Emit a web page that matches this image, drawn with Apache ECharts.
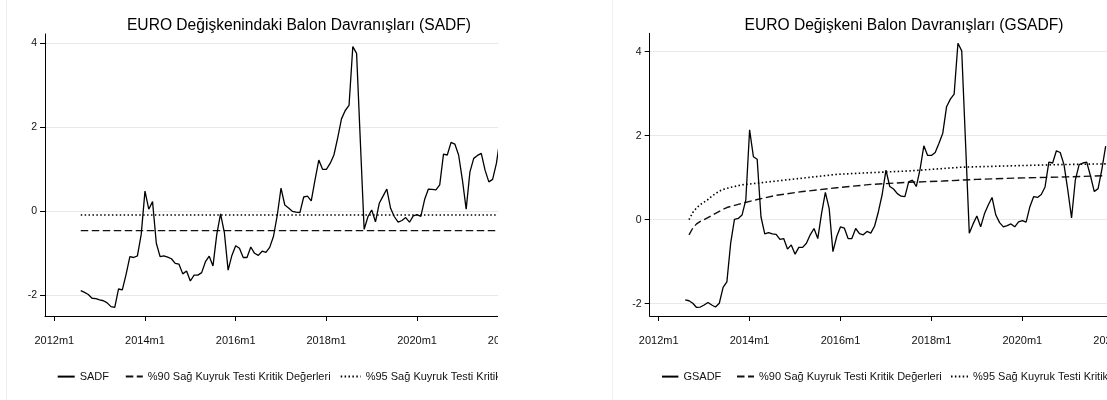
<!DOCTYPE html>
<html>
<head>
<meta charset="utf-8">
<title>EURO Balon Davranışları</title>
<script src="https://cdn.jsdelivr.net/npm/echarts@6/dist/echarts.min.js"></script>
<style>
  html, body { margin: 0; padding: 0; background: #fff; overflow: hidden; }
  .clip { position: absolute; top: 0; height: 400px; overflow: hidden; }
  #leftClip { left: 0; width: 498px; }
  #rightClip { left: 553px; width: 554px; }
  .chart { position: absolute; left: 0; top: 0; height: 400px; }
  #left { width: 600px; }
  #right { width: 700px; }
</style>
</head>
<body>
<div id="leftClip" class="clip"><div id="left" class="chart"></div></div>
<div id="rightClip" class="clip"><div id="right" class="chart"></div></div>
<script>
// Months are counted from 2012m1 (0 = 2012m1). Monthly observations start at 2012m8.
const firstMonth = 7;

// Axis ticks
const tickMonths = [0, 24, 48, 72, 96, 120];
const tickLabels = ['2012m1', '2014m1', '2016m1', '2018m1', '2020m1', '2022m1'];
const yTicks = [-2, 0, 2, 4];

// SADF statistic, 2012m8 onwards
const sadf = [
  -1.89, -1.93, -1.98, -2.07, -2.08, -2.11, -2.13, -2.18, -2.27, -2.29,
  -1.85, -1.87, -1.50, -1.08, -1.10, -1.06, -0.55, 0.48, 0.05, 0.23,
  -0.76, -1.08, -1.06, -1.09, -1.13, -1.24, -1.26, -1.49, -1.42, -1.66,
  -1.52, -1.52, -1.46, -1.20, -1.07, -1.30, -0.55, -0.06, -0.50, -1.40,
  -1.05, -0.82, -0.88, -1.10, -1.10, -0.85, -1.00, -1.05, -0.95, -0.98,
  -0.86, -0.60, -0.10, 0.55, 0.15, 0.08, 0.00, -0.02, -0.03, 0.34,
  0.36, 0.25, 0.75, 1.22, 1.00, 1.00, 1.14, 1.34, 1.75, 2.20,
  2.40, 2.52, 3.92, 3.76, 1.65, -0.43, -0.13, 0.03, -0.25, 0.19,
  0.36, 0.53, 0.07, -0.13, -0.26, -0.22, -0.15, -0.26, -0.11, -0.08,
  -0.12, 0.28, 0.53, 0.52, 0.51, 0.63, 1.36, 1.34, 1.64, 1.60,
  1.34, 0.75, 0.05, 0.94, 1.26, 1.33, 1.38, 0.98, 0.70, 0.76,
  1.14, 1.75
];
// SADF right-tail critical values (constant)
const sadfCv90 = -0.46;
const sadfCv95 = -0.09;

// GSADF (backward SADF sequence), 2012m8 onwards
const gsadf = [
  -1.91, -1.93, -1.99, -2.09, -2.08, -2.03, -1.97, -2.03, -2.08, -1.99,
  -1.61, -1.48, -0.56, 0.01, 0.03, 0.11, 0.47, 2.14, 1.50, 1.44,
  0.07, -0.34, -0.31, -0.34, -0.35, -0.47, -0.45, -0.70, -0.60, -0.82,
  -0.66, -0.66, -0.56, -0.36, -0.21, -0.45, 0.15, 0.65, 0.27, -0.76,
  -0.40, -0.17, -0.20, -0.45, -0.45, -0.21, -0.33, -0.36, -0.28, -0.32,
  -0.15, 0.19, 0.60, 1.18, 0.79, 0.73, 0.62, 0.56, 0.55, 0.90,
  0.94, 0.79, 1.20, 1.76, 1.53, 1.53, 1.60, 1.82, 2.06, 2.69,
  2.87, 2.99, 4.20, 4.02, 1.85, -0.32, -0.10, 0.09, -0.17, 0.14,
  0.35, 0.53, 0.11, -0.07, -0.17, -0.14, -0.10, -0.17, -0.05, -0.02,
  -0.06, 0.31, 0.55, 0.53, 0.60, 0.78, 1.37, 1.35, 1.64, 1.60,
  1.31, 0.71, 0.04, 0.95, 1.31, 1.35, 1.37, 1.04, 0.67, 0.74,
  1.20, 1.75
];
// GSADF right-tail critical value sequences: [month, value]
const gsadfCv90 = [
  [8, -0.36], [9, -0.20], [10, -0.10], [11, -0.04], [12, 0.00], [14, 0.10],
  [16, 0.20], [18, 0.29], [22, 0.39], [26, 0.48], [31, 0.58], [38, 0.67],
  [47, 0.76], [56, 0.84], [66, 0.89], [75, 0.92], [84, 0.96], [94, 0.99],
  [108, 1.02], [118, 1.05]
];
const gsadfCv95 = [
  [8, 0.00], [9, 0.17], [10, 0.28], [11, 0.36], [12, 0.42], [13, 0.48],
  [14, 0.56], [15, 0.62], [16, 0.68], [17, 0.72], [19, 0.77], [22, 0.83],
  [28, 0.89], [38, 0.99], [47, 1.08], [56, 1.12], [66, 1.16], [80, 1.25],
  [92, 1.28], [105, 1.31], [118, 1.33]
];

const seriesNames = {
  cv90: '%90 Sağ Kuyruk Testi Kritik Değerleri',
  cv95: '%95 Sağ Kuyruk Testi Kritik Değerleri'
};

const FONT = '"Liberation Sans", Arial, Helvetica, sans-serif';

function toPairs(values) {
  return values.map((v, i) => [firstMonth + i, v]);
}

function buildOption(cfg) {
  const lineSeries = (name, data, type, width, color, z) => ({
    type: 'line',
    name: name,
    data: data,
    symbol: 'none',
    smooth: false,
    animation: false,
    z: z,
    lineStyle: { color: color, width: width, type: type, cap: 'butt' },
    itemStyle: { color: color }
  });
  // legend keys show only the line sample, no marker
  const legendItem = (name, left, width) => ({
    data: [name],
    left: left,
    top: 371,
    itemWidth: width,
    itemHeight: 14,
    selectedMode: false,
    padding: 0,
    itemStyle: { color: 'rgba(0,0,0,0)', borderColor: 'rgba(0,0,0,0)', borderWidth: 0, opacity: 0 },
    textStyle: { fontFamily: FONT, fontSize: 11, color: '#111' }
  });
  return {
    animation: false,
    backgroundColor: '#fff',
    title: {
      text: cfg.title,
      left: cfg.titleX,
      textAlign: 'center',
      top: 18,
      padding: 0,
      textStyle: { fontFamily: FONT, fontSize: 15.6, fontWeight: 'normal', color: '#000' }
    },
    graphic: [{
      type: 'line',
      shape: { x1: cfg.frameX, y1: 0, x2: cfg.frameX, y2: 400 },
      style: { stroke: '#efefef', lineWidth: 1 },
      silent: true
    }],
    legend: [
      legendItem(cfg.mainName, cfg.legend[0][0], cfg.legend[0][1]),
      legendItem(seriesNames.cv90, cfg.legend[1][0], cfg.legend[1][1]),
      legendItem(seriesNames.cv95, cfg.legend[2][0], cfg.legend[2][1])
    ],
    grid: {
      left: cfg.gridLeft, top: cfg.gridTop,
      width: cfg.gridWidth, height: cfg.gridHeight,
      containLabel: false
    },
    xAxis: {
      type: 'value',
      min: cfg.xMin, max: cfg.xMax,
      axisLine: { onZero: false, lineStyle: { color: '#000', width: 1 } },
      axisTick: { customValues: tickMonths, length: 5, lineStyle: { color: '#000' } },
      axisLabel: {
        customValues: tickMonths,
        margin: 19,
        fontFamily: FONT, fontSize: 11, color: '#111',
        formatter: v => tickLabels[tickMonths.indexOf(v)]
      },
      splitLine: { show: false }
    },
    yAxis: {
      type: 'value',
      min: cfg.yMin, max: cfg.yMax,
      axisLine: { show: true, onZero: false, lineStyle: { color: '#000', width: 1 } },
      axisTick: { show: true, customValues: yTicks, length: 5, lineStyle: { color: '#000' } },
      axisLabel: {
        customValues: yTicks,
        margin: 8,
        fontFamily: FONT, fontSize: 10.5, color: '#111'
      },
      splitLine: { show: true, lineStyle: { color: '#e8e8e8', width: 1.2 } }
    },
    series: [
      lineSeries(cfg.mainName, cfg.main, 'solid', 1.3, '#000', 4),
      lineSeries(seriesNames.cv90, cfg.cv90, [7.5, 3.5], 1.4, '#111', 3),
      lineSeries(seriesNames.cv95, cfg.cv95, [1.5, 2.4], 1.6, '#000', 3)
    ]
  };
}

const sadfLast = firstMonth + sadf.length - 1;

const leftChart = echarts.init(document.getElementById('left'), null, { renderer: 'canvas' });
leftChart.setOption(buildOption({
  title: 'EURO Değişkenindaki Balon Davranışları (SADF)',
  titleX: 299,
  frameX: 6.5,
  mainName: 'SADF',
  main: toPairs(sadf),
  cv90: [[firstMonth, sadfCv90], [sadfLast, sadfCv90]],
  cv95: [[firstMonth, sadfCv95], [sadfLast, sadfCv95]],
  legend: [[56.7, 17], [124.8, 17], [339.7, 20]],
  gridLeft: 45, gridTop: 34, gridWidth: 504.3, gridHeight: 282,
  xMin: -2.46, xMax: 131,
  yMin: -2.493, yMax: 4.221
}));

const rightChart = echarts.init(document.getElementById('right'), null, { renderer: 'canvas' });
rightChart.setOption(buildOption({
  title: 'EURO Değişkeni Balon Davranışları (GSADF)',
  titleX: 351,
  frameX: 59.5,
  mainName: 'GSADF',
  main: toPairs(gsadf),
  cv90: gsadfCv90,
  cv95: gsadfCv95,
  legend: [[108, 16.4], [183, 17], [397, 17]],
  gridLeft: 96.7, gridTop: 33.3, gridWidth: 505.2, gridHeight: 282.7,
  xMin: -2.376, xMax: 131,
  yMin: -2.293, yMax: 4.438
}));
</script>
</body>
</html>
